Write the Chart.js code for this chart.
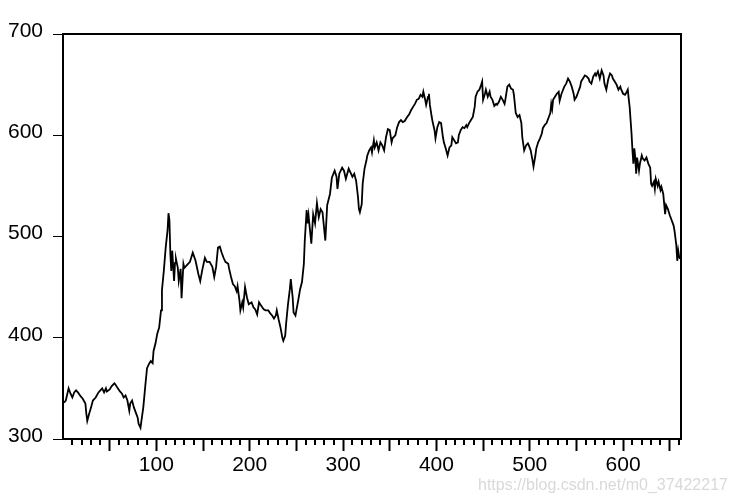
<!DOCTYPE html>
<html>
<head>
<meta charset="utf-8">
<script src="https://cdn.jsdelivr.net/npm/chart.js@4/dist/chart.umd.min.js"></script>
<style>
html,body{margin:0;padding:0;background:#fff;}
#wrap{position:relative;width:735px;height:503px;}
#wm{position:absolute;left:478px;top:476px;font:16px "Liberation Sans",Arial,sans-serif;color:#d9d9d9;white-space:nowrap;line-height:18px;}
</style>
</head>
<body>
<div id="wrap">
<canvas id="c" width="735" height="503"></canvas>
<div id="wm">https://blog.csdn.net/m0_37422217</div>
</div>
<script>
// observation index
const obs = [1,3,6,8,10,12,14,16,19,21,24,25,26,28,30,32,35,38,40,42,44,46,47,50,52,55,56,58,61,63,65,67,69,71,72,74,76,78,80,81,83,84,86,88,90,92,94,96,97,99,101,103,105,106,108,110,112,113,114,115,116,117,119,120,121,123,124,126,127,129,130,132,
136,139,142,145,147,149,152,154,157,160,162,164,166,168,170,172,174,177,178,180,182,184,186,187,189,190,192,193,195,197,199,202,204,206,208,210,212,215,217,220,222,224,226,228,229,231,233,235,236,238,239,241,243,244,246,247,249,250,252,254,256,258,259,261,262,263,266,268,270,272,274,276,278,281,283,286,288,291,293,294,296,299,301,303,306,308,310,312,314,316,317,318,320,321,323,325,326,328,330,331,333,334,336,338,340,342,344,346,348,350,352,353,356,358,360,362,364,366,368,371,373,375,377,379,381,383,385,386,388,389,391,392,393,395,396,398,399,401,403,405,407,408,410,412,414,416,417,419,421,423,424,426,428,430,432,433,435,437,439,441,442,444,446,448,449,450,452,453,455,457,458,460,462,464,465,467,469,471,473,474,476,478,480,482,483,485,487,489,491,492,494,496,498,499,501,503,504,506,507,509,511,513,514,516,518,520,522,523,524,525,527,529,531,532,534,537,539,541,543,545,547,548,550,552,554,555,557,559,561,563,564,566,568,570,571,573,575,577,579,580,582,584,586,588,589,591,593,595,597,598,600,602,604,605,606,607,608,609,610,611,612,613,614,615,617,618,620,621,623,625,627,629,630,631,633,634,635,637,638,640,641,643,644,645,646,648,650,652,654,655,656,657,658,659,660,661];
// series values
const price = [336,338,350,345,341,346,348,346,342,340,335,325,318,325,331,338,341,346,348,350,346,350,347,349,352,355,354,351,347,345,341,343,338,328,335,338,331,326,321,315,311,318,331,351,370,374,377,375,387,394,404,410,427,447,466,489,506,523,516,483,466,486,456,474,478,469,456,468,439,473,469,471,
475,484,476,463,456,466,479,475,475,470,460,470,489,490,484,479,475,473,468,460,453,451,446,451,437,427,435,430,450,440,433,435,430,428,423,435,432,428,427,427,424,422,419,422,427,418,410,400,397,402,414,433,448,458,440,425,422,427,437,448,455,473,496,526,513,521,493,522,513,533,519,527,524,496,531,542,558,565,559,547,562,568,565,557,567,563,559,562,555,539,527,524,532,552,567,575,580,585,588,583,595,588,593,585,593,590,585,598,606,605,593,597,600,608,613,615,613,614,617,621,625,628,631,635,636,640,638,643,635,630,638,641,630,618,613,605,597,608,613,612,598,593,587,580,588,590,598,595,592,593,600,605,608,607,610,608,612,615,618,628,638,643,645,650,653,635,641,645,638,643,638,635,629,631,630,633,638,635,631,636,648,650,646,645,640,622,618,620,612,598,585,590,592,590,585,575,569,580,587,593,597,602,607,610,612,617,622,631,626,635,638,641,643,634,641,648,651,656,653,648,641,635,638,643,648,653,656,659,658,656,653,651,658,661,659,663,656,664,659,651,645,655,661,659,656,653,650,645,648,645,641,640,643,645,636,628,615,602,585,572,587,578,562,578,565,572,580,577,575,578,572,568,552,550,554,547,557,550,554,546,549,542,532,522,531,527,521,516,511,506,499,491,476,486,480,478];
// tick labels
const yTickValues = [300,400,500,600,700];
const xTickLabels = [100,200,300,400,500,600];

const FONT = '"Liberation Sans", Arial, sans-serif';

const minorTicks = {
  id: 'minorTicks',
  afterDraw(chart) {
    const ctx = chart.ctx, xs = chart.scales.x, a = chart.chartArea;
    ctx.save();
    ctx.strokeStyle = '#000';
    ctx.lineWidth = 2;
    for (let v = 10; v <= 660; v += 10) {
      if (v % 50 === 0) continue;
      const px = Math.round(xs.getPixelForValue(v));
      ctx.beginPath();
      ctx.moveTo(px, a.bottom);
      ctx.lineTo(px, a.bottom + 6);
      ctx.stroke();
    }
    ctx.lineWidth = 2;
    ctx.strokeRect(a.left, a.top, a.right - a.left, a.bottom - a.top);
    ctx.restore();
  }
};

new Chart(document.getElementById('c'), {
  type: 'line',
  data: {
    datasets: [{
      data: obs.map((x, i) => ({x: x, y: price[i]})),
      borderColor: '#000',
      borderWidth: 1.8,
      pointRadius: 0,
      tension: 0,
      fill: false
    }]
  },
  options: {
    responsive: false,
    animation: false,
    devicePixelRatio: 1,
    layout: {padding: {top: 34, right: 54, left: 0, bottom: 0}},
    plugins: {legend: {display: false}, tooltip: {enabled: false}},
    scales: {
      x: {
        type: 'linear',
        min: 0, max: 662,
        afterFit: s => { s.height = 64; },
        ticks: {
          stepSize: 10,
          autoSkip: false,
          maxRotation: 0,
          padding: 2,
          color: '#000',
          font: {family: FONT, size: 21},
          callback: v => xTickLabels.includes(v) ? String(v) : ''
        },
        grid: {
          drawOnChartArea: false,
          tickLength: 12,
          tickWidth: 2,
          tickColor: c => (c.tick && c.tick.value % 50 === 0 && c.tick.value > 0) ? '#000' : 'rgba(0,0,0,0)'
        },
        border: {display: true, color: '#000', width: 2}
      },
      y: {
        min: 300, max: 700,
        afterFit: s => { s.width = 63; },
        afterBuildTicks: s => { s.ticks = yTickValues.map(v => ({value: v})); },
        ticks: {
          padding: 10,
          labelOffset: -3,
          color: '#000',
          font: {family: FONT, size: 21}
        },
        grid: {drawOnChartArea: false, tickLength: 10, tickWidth: 1, tickColor: '#000'},
        border: {display: true, color: '#000', width: 2}
      }
    }
  },
  plugins: [minorTicks]
});
</script>
</body>
</html>
